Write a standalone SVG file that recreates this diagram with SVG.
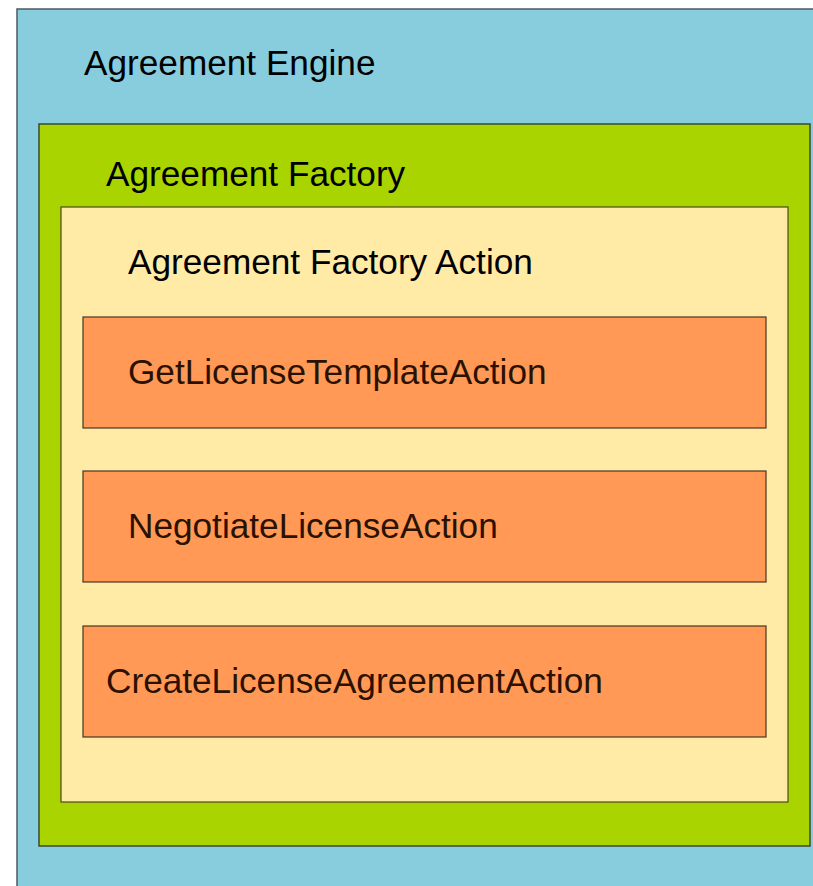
<svg xmlns="http://www.w3.org/2000/svg" width="813" height="886" viewBox="0 0 813 886">
<style>
text{font-family:"Liberation Sans",Arial,sans-serif;font-size:35.2px}
.dark{fill:#000}
.act{fill:#ff9955;stroke:#4a3520;stroke-width:1.2}
.actt{fill:#2b1100}
</style>
<rect width="813" height="886" fill="#fff"/>
<g id="engine">
<rect x="17" y="9" width="820" height="900" fill="#87cdde" stroke="#4d5a5c" stroke-width="1.5"/>
<text x="84" y="75" class="dark">Agreement Engine</text>
</g>
<g id="factory">
<rect x="39" y="124" width="771" height="722" fill="#aad400" stroke="#3a4a30" stroke-width="1.5"/>
<text x="106" y="186" class="dark">Agreement Factory</text>
</g>
<g id="factory-action">
<rect x="61" y="207" width="727" height="595" fill="#ffeaa6" stroke="#4a4a20" stroke-width="1.2"/>
<text x="128" y="274" class="dark">Agreement Factory Action</text>
</g>
<g id="get-license-template">
<rect x="83" y="317" width="683" height="111" class="act"/>
<text x="128" y="384" class="actt">GetLicenseTemplateAction</text>
</g>
<g id="negotiate-license">
<rect x="83" y="471" width="683" height="111" class="act"/>
<text x="128" y="538" class="actt">NegotiateLicenseAction</text>
</g>
<g id="create-license-agreement">
<rect x="83" y="626" width="683" height="111" class="act"/>
<text x="106" y="693" class="actt">CreateLicenseAgreementAction</text>
</g>
<g id="connectors"/>
</svg>
